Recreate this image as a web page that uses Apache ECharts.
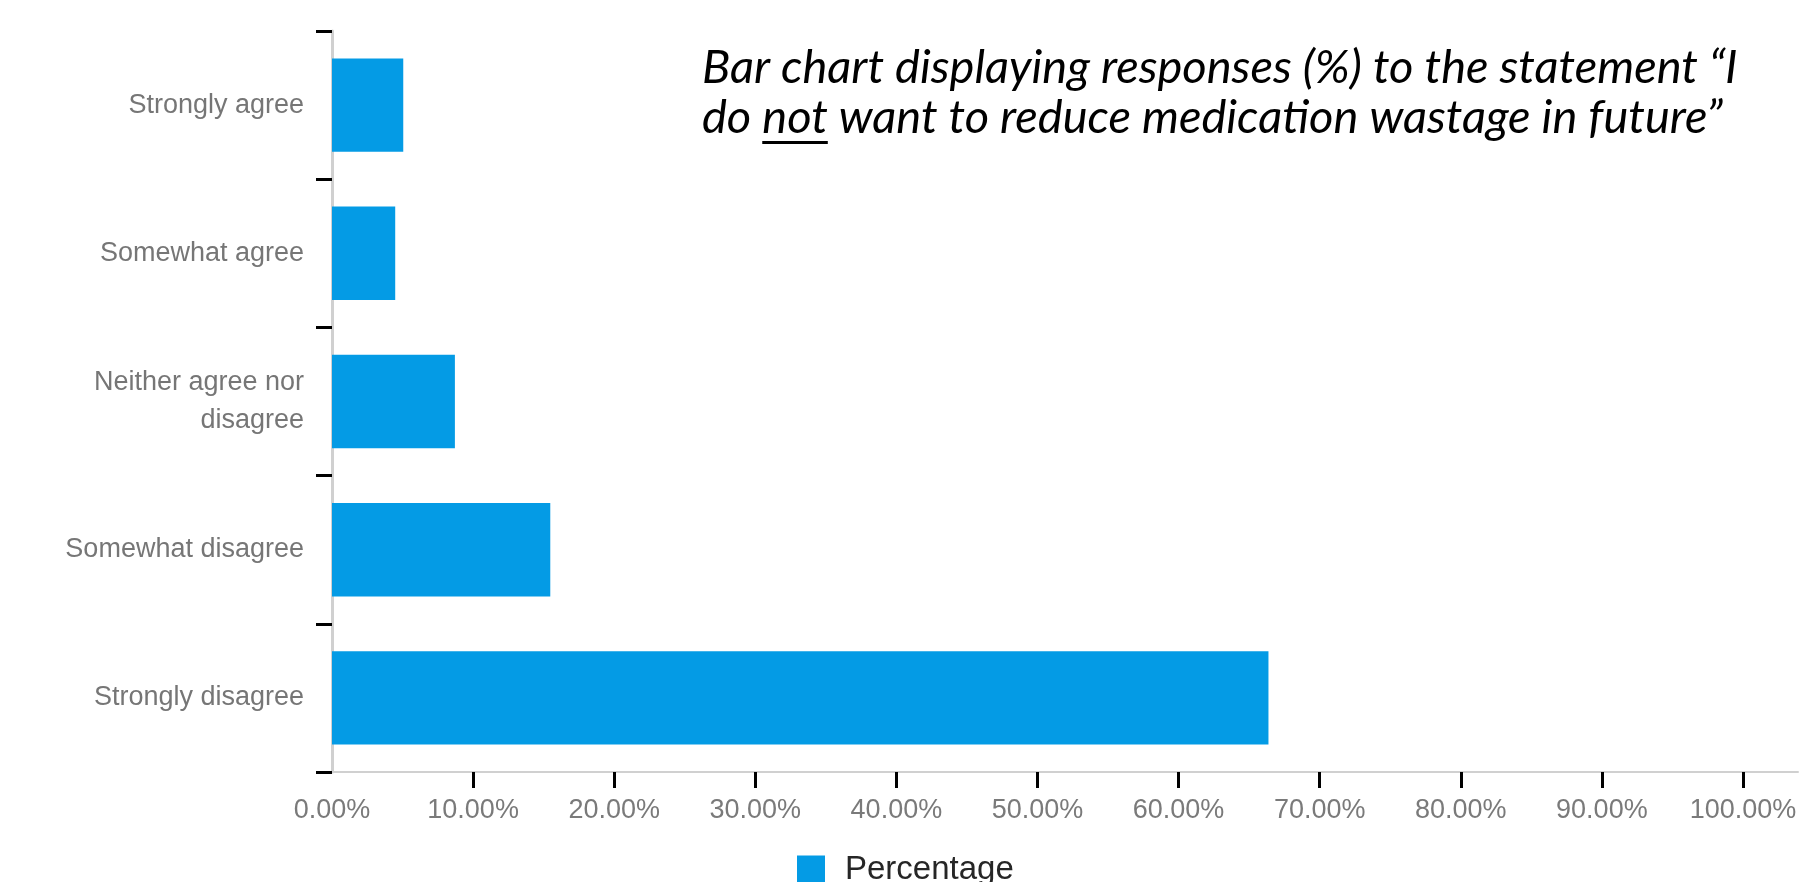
<!DOCTYPE html>
<html>
<head>
<meta charset="utf-8">
<title>Medication wastage responses</title>
<script src="https://cdn.jsdelivr.net/npm/echarts@6/dist/echarts.min.js"></script>
<style>
  html, body { margin: 0; padding: 0; background: #fff; }
  #chart { width: 1802px; height: 882px; }
</style>
</head>
<body>
<div id="chart"></div>
<script>
// answers, top to bottom
const categories = ['Strongly agree', 'Somewhat agree', 'Neither agree nor\ndisagree', 'Somewhat disagree', 'Strongly disagree'];
const percentages = [5.05, 4.48, 8.71, 15.47, 66.37];
const xTicks = [0, 10, 20, 30, 40, 50, 60, 70, 80, 90, 100];
const seriesName = 'Percentage';
const titleLines = [
  'Bar chart displaying responses (%) to the statement \u201cI',
  'do not want to reduce medication wastage in future\u201d'
];

const chart = echarts.init(document.getElementById('chart'));

// underline under "not" in the title, measured with the same font
const titleLeft = 702;
const titleSize = 47;
const ctx = document.createElement('canvas').getContext('2d');
ctx.font = 'italic ' + titleSize + 'px Lato';
const ulStart = titleLeft + ctx.measureText('do ').width;
const ulWidth = ctx.measureText('not').width;

const labelFont = 'Liberation Sans';

const option = {
  animation: false,
  title: {
    text: titleLines.join('\n'),
    left: titleLeft,
    top: 43,
    padding: 0,
    textStyle: {
      fontFamily: 'Lato',
      fontStyle: 'italic',
      fontWeight: 'normal',
      fontSize: titleSize,
      lineHeight: 50,
      color: '#000'
    }
  },
  legend: {
    left: 797,
    top: 853,
    padding: 0,
    icon: 'rect',
    itemWidth: 28,
    itemHeight: 28,
    textStyle: {
      fontFamily: labelFont,
      fontSize: 33,
      color: '#262626',
      padding: [0, 0, 0, 15]
    }
  },
  grid: {
    left: 332,
    right: 4,
    top: 31,
    bottom: 110
  },
  xAxis: {
    type: 'value',
    min: 0,
    max: 103.9,
    splitLine: { show: false },
    axisLine: { show: true, lineStyle: { color: '#d0d0d0', width: 2 } },
    axisTick: {
      show: true,
      length: 16,
      lineStyle: { color: '#000', width: 3 },
      customValues: xTicks.filter(v => v > 0)
    },
    axisLabel: {
      customValues: xTicks,
      formatter: v => v.toFixed(2) + '%',
      margin: 25,
      fontFamily: labelFont,
      fontSize: 27,
      color: '#7a7a7a'
    }
  },
  yAxis: {
    type: 'category',
    inverse: true,
    data: categories,
    axisLine: { show: true, lineStyle: { color: '#d0d0d0', width: 3 } },
    axisTick: { show: true, length: 16, lineStyle: { color: '#000', width: 3 } },
    axisLabel: {
      margin: 28,
      padding: [6, 0, 0, 0],
      fontFamily: labelFont,
      fontSize: 27,
      lineHeight: 38,
      color: '#767676'
    }
  },
  series: [
    {
      name: seriesName,
      type: 'bar',
      data: percentages,
      barWidth: '63%',
      itemStyle: { color: '#049be5' }
    }
  ],
  graphic: [
    {
      type: 'rect',
      shape: { x: ulStart, y: 141, width: ulWidth, height: 3 },
      style: { fill: '#000' }
    }
  ]
};

chart.setOption(option);
</script>
</body>
</html>
